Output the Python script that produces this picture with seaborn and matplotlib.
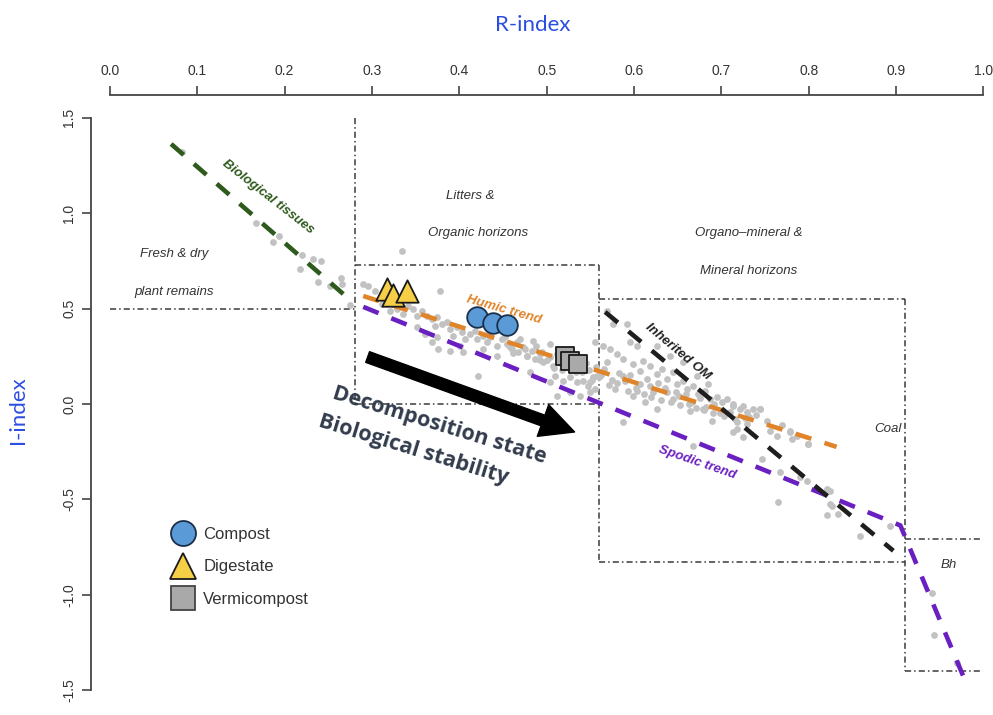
import numpy as np
import pandas as pd
import matplotlib
matplotlib.use("Agg")
import matplotlib.pyplot as plt
from matplotlib.lines import Line2D
import seaborn as sns

# ---------------- data (R-index, I-index) ----------------
x_ticks = [0.0, 0.1, 0.2, 0.3, 0.4, 0.5, 0.6, 0.7, 0.8, 0.9, 1.0]
y_ticks = [-1.5, -1.0, -0.5, 0.0, 0.5, 1.0, 1.5]

cloud_R = [
    0.082, 0.167, 0.187, 0.194, 0.220, 0.233, 0.218, 0.242, 0.238, 0.252, 0.265, 0.266, 0.275, 0.334,
    0.290, 0.295, 0.303, 0.311, 0.317, 0.378, 0.332, 0.341, 0.347, 0.352, 0.357, 0.363, 0.369, 0.374,
    0.372, 0.380, 0.386, 0.389, 0.397, 0.393, 0.403, 0.406, 0.412, 0.418, 0.420, 0.427, 0.432, 0.435,
    0.443, 0.449, 0.455, 0.460, 0.466, 0.467, 0.473, 0.477, 0.483, 0.487, 0.492, 0.496, 0.504, 0.507,
    0.504, 0.484, 0.510, 0.519, 0.527, 0.535, 0.542, 0.547, 0.553, 0.555, 0.550, 0.538, 0.421, 0.443,
    0.427, 0.401, 0.389, 0.374, 0.361, 0.369, 0.352, 0.335, 0.329, 0.321, 0.311, 0.376, 0.404, 0.481,
    0.504, 0.527, 0.512,
    0.452, 0.458, 0.470, 0.475, 0.488, 0.495, 0.500, 0.512, 0.515, 0.522, 0.530, 0.545, 0.548, 0.556,
    0.562, 0.566, 0.575, 0.583, 0.590, 0.596, 0.602, 0.615, 0.622, 0.628, 0.635, 0.648, 0.652, 0.660,
    0.666, 0.676, 0.683, 0.692, 0.698, 0.710, 0.732, 0.740, 0.752, 0.770,
    0.569, 0.576, 0.592, 0.603, 0.595, 0.564, 0.573, 0.581, 0.587, 0.569, 0.599, 0.610, 0.607, 0.618,
    0.626, 0.632, 0.638, 0.645, 0.649, 0.656, 0.661, 0.668, 0.673, 0.681, 0.687, 0.695, 0.701, 0.706,
    0.713, 0.721, 0.729, 0.736, 0.744, 0.718, 0.729, 0.713, 0.756, 0.779, 0.787, 0.799, 0.587, 0.607,
    0.587, 0.626, 0.645, 0.664, 0.679, 0.668, 0.638, 0.618, 0.641, 0.656, 0.672, 0.685, 0.626, 0.555,
    0.558, 0.550, 0.599, 0.613, 0.578,
    0.713, 0.725, 0.744, 0.689, 0.718, 0.725, 0.764, 0.779, 0.781, 0.799, 0.747, 0.767, 0.790, 0.798,
    0.765, 0.821, 0.824, 0.821, 0.834, 0.859, 0.893, 0.824, 0.827, 0.941, 0.943, 0.970,
    0.462, 0.478, 0.492, 0.508, 0.518, 0.526, 0.534, 0.541, 0.552, 0.560, 0.571, 0.580, 0.593, 0.604,
    0.612, 0.620, 0.631, 0.642, 0.653, 0.663, 0.671, 0.680, 0.690, 0.703, 0.716, 0.727,
]
cloud_I = [
    1.320, 0.950, 0.850, 0.880, 0.780, 0.760, 0.710, 0.750, 0.640, 0.620, 0.660, 0.630, 0.520, 0.800,
    0.627, 0.617, 0.591, 0.565, 0.523, 0.591, 0.523, 0.512, 0.497, 0.460, 0.486, 0.460, 0.444, 0.455,
    0.408, 0.418, 0.429, 0.392, 0.402, 0.355, 0.376, 0.340, 0.366, 0.382, 0.340, 0.355, 0.324, 0.350,
    0.303, 0.340, 0.314, 0.287, 0.324, 0.272, 0.298, 0.251, 0.277, 0.235, 0.261, 0.220, 0.246, 0.199,
    0.314, 0.329, 0.146, 0.120, 0.141, 0.115, 0.120, 0.094, 0.141, 0.078, 0.063, 0.042, 0.146, 0.251,
    0.287, 0.303, 0.277, 0.350, 0.366, 0.324, 0.402, 0.470, 0.497, 0.486, 0.523, 0.287, 0.272, 0.167,
    0.115, 0.063, 0.042,
    0.352, 0.300, 0.340, 0.290, 0.305, 0.270, 0.232, 0.262, 0.215, 0.240, 0.205, 0.215, 0.180, 0.195,
    0.150, 0.182, 0.125, 0.160, 0.120, 0.150, 0.085, 0.130, 0.060, 0.110, 0.085, 0.065, 0.040, 0.050,
    0.010, 0.030, -0.015, 0.000, -0.050, -0.040, -0.070, -0.060, -0.090, -0.110,
    0.486, 0.418, 0.418, 0.303, 0.324, 0.303, 0.287, 0.261, 0.235, 0.220, 0.209, 0.225, 0.172, 0.199,
    0.157, 0.183, 0.131, 0.167, 0.105, 0.120, 0.078, 0.094, 0.052, 0.068, 0.026, 0.037, 0.010, 0.026,
    -0.010, -0.026, -0.042, -0.026, -0.026, -0.094, -0.105, -0.146, -0.141, -0.146, -0.167, -0.209, 0.146, 0.105,
    -0.094, -0.026, 0.026, -0.037, -0.026, -0.220, 0.063, 0.094, 0.251, 0.220, 0.146, 0.105, 0.303, 0.324,
    0.146, 0.115, 0.042, 0.010, 0.078,
    0.000, -0.010, -0.026, -0.089, -0.131, -0.172, -0.167, -0.141, -0.183, -0.209, -0.287, -0.355, -0.382, -0.402,
    -0.512, -0.444, -0.523, -0.585, -0.575, -0.690, -0.638, -0.455, -0.533, -0.993, -1.213, -1.359,
    0.268, 0.252, 0.232, 0.190, 0.176, 0.188, 0.165, 0.170, 0.128, 0.140, 0.098, 0.108, 0.070, 0.068,
    0.050, 0.038, 0.020, 0.012, -0.005, -0.002, -0.020, -0.030, -0.045, -0.062, -0.080, -0.075,
]

# trends
bio_R, bio_I = [0.070, 0.271], [1.363, 0.561]
humic_R, humic_I = [0.290, 0.832], [0.566, -0.225]
spodic_R, spodic_I = [0.290, 0.905, 0.980], [0.509, -0.637, -1.460]
inherited_R, inherited_I = [0.567, 0.897], [0.482, -0.770]

# amendments
compost_R, compost_I = [0.420, 0.439, 0.455], [0.455, 0.423, 0.413]
digestate_R, digestate_I = [0.317, 0.324, 0.340], [0.601, 0.570, 0.591]
vermi_R, vermi_I = [0.521, 0.527, 0.536], [0.251, 0.225, 0.209]

# domain boundaries (dot-dash segments): (R0, R1, I0, I1)
bound_R0 = [0.00, 0.28, 0.28, 0.28, 0.56, 0.56, 0.56, 0.91, 0.91, 0.91]
bound_R1 = [0.28, 0.28, 0.56, 0.56, 0.56, 0.91, 0.91, 0.91, 1.00, 1.00]
bound_I0 = [0.50, 1.50, 0.73, 0.00, 0.73, 0.55, -0.83, 0.55, -0.71, -1.40]
bound_I1 = [0.50, 0.00, 0.73, 0.00, -0.83, 0.55, -0.83, -1.40, -0.71, -1.40]

# ---------------- figure ----------------
sns.set_theme(style="white")
plt.rcParams["font.family"] = ["Liberation Sans", "DejaVu Sans"]

W, H = 993, 715
fig = plt.figure(figsize=(W / 100, H / 100), dpi=100)
ax = fig.add_axes([91 / W, 1 - 710 / H, (990 - 91) / W, (710 - 95) / H])
ax.set_xlim(-0.02176, 1.00767)
ax.set_ylim(-1.605, 1.620)
ax.set_facecolor("white")

# boundaries
for r0, r1, i0, i1 in zip(bound_R0, bound_R1, bound_I0, bound_I1):
    ax.plot([r0, r1], [i0, i1], color="#3a3a3a", lw=1.1,
            linestyle=(0, (4, 2, 1, 2)), zorder=1)

# gray cloud
cloud = pd.DataFrame({"R": cloud_R, "I": cloud_I})
sns.scatterplot(data=cloud, x="R", y="I", color="#c2c2c2", s=24, linewidth=0,
                ax=ax, zorder=2, legend=False)

# trend lines
dash = (3.6, 3.0)
ax.plot(bio_R, bio_I, color="#2e5a1c", lw=3.3, dashes=dash, zorder=3)
ax.plot(humic_R, humic_I, color="#e0842a", lw=3.3, dashes=dash, zorder=3)
ax.plot(spodic_R, spodic_I, color="#6a1fc0", lw=3.3, dashes=dash, zorder=3)
ax.plot(inherited_R, inherited_I, color="#1e1e1e", lw=3.3, dashes=dash, zorder=3)

# amendments
sns.scatterplot(x=digestate_R, y=digestate_I, marker="^", s=260, color="#f6cf47",
                edgecolor="#1a1a1a", linewidth=1.3, ax=ax, zorder=4, legend=False)
sns.scatterplot(x=compost_R, y=compost_I, marker="o", s=220, color="#5a9ad6",
                edgecolor="#1c2f4a", linewidth=1.3, ax=ax, zorder=4, legend=False)
sns.scatterplot(x=vermi_R, y=vermi_I, marker="s", s=170, color="#a9a9a9",
                edgecolor="#1a1a1a", linewidth=1.3, ax=ax, zorder=4, legend=False)

# region labels
lab_kw = dict(fontsize=9.5, style="italic", color="#333333", ha="center", va="center", zorder=5)
ax.text(0.074, 0.787, "Fresh & dry", **lab_kw)
ax.text(0.073, 0.587, "plant remains", **lab_kw)
ax.text(0.413, 1.091, "Litters &", **lab_kw)
ax.text(0.421, 0.897, "Organic horizons", **lab_kw)
ax.text(0.731, 0.897, "Organo\u2013mineral &", **lab_kw)
ax.text(0.731, 0.697, "Mineral horizons", **lab_kw)
ax.text(0.891, -0.131, "Coal", **lab_kw)
ax.text(0.960, -0.844, "Bh", **lab_kw)

tr_kw = dict(fontsize=9.5, style="italic", weight="bold", ha="center", va="center",
             rotation_mode="anchor", zorder=5)
ax.text(0.181, 1.085, "Biological tissues", color="#2e5a1c", rotation=-38, **tr_kw)
ax.text(0.451, 0.493, "Humic trend", color="#e0842a", rotation=-16, **tr_kw)
ax.text(0.650, 0.273, "Inherited OM", color="#222222", rotation=-40, **tr_kw)
ax.text(0.672, -0.309, "Spodic trend", color="#6a1fc0", rotation=-19, **tr_kw)

# arrow and its caption
ax.annotate("", xy=(0.532, -0.147), xytext=(0.295, 0.246),
            arrowprops=dict(arrowstyle="simple,head_length=1.1,head_width=1.1,tail_width=0.37",
                            color="black", mutation_scale=22, shrinkA=0, shrinkB=0),
            zorder=5)
cap_kw = dict(fontsize=15.5, weight="bold", family="Open Sans", color="#323c4c",
              ha="center", va="center", rotation=-17, rotation_mode="anchor", zorder=6)
ax.text(0.377, -0.115, "Decomposition state", **cap_kw)
ax.text(0.347, -0.238, "Biological stability", **cap_kw)

# axes styling (R-like detached axes)
for s in ["bottom", "right"]:
    ax.spines[s].set_visible(False)
for s in ["top", "left"]:
    ax.spines[s].set_visible(True)
    ax.spines[s].set_color("#444444")
    ax.spines[s].set_linewidth(1.3)
ax.spines["top"].set_bounds(0, 1)
ax.spines["left"].set_bounds(-1.5, 1.5)
ax.grid(False)

ax.xaxis.tick_top()
ax.set_xticks(x_ticks)
ax.set_xticklabels([f"{v:.1f}" for v in x_ticks])
ax.set_yticks(y_ticks)
ax.set_yticklabels([f"{v:.1f}" for v in y_ticks])
ax.tick_params(axis="x", top=True, bottom=False, labeltop=True, labelbottom=False,
               length=6.5, width=1.2, color="#444444", pad=6, labelsize=10,
               labelcolor="#333333")
ax.tick_params(axis="y", left=True, right=False, length=6.5, width=1.2, color="#444444",
               pad=4, labelsize=10, labelcolor="#333333", labelrotation=90)
for lab in ax.get_yticklabels():
    lab.set_va("center")
ax.set_xlabel("")
ax.set_ylabel("")

fig.text(533 / W, 1 - 25 / H, "R-index", color="#2b4ee0", fontsize=16, family="Lato",
         ha="center", va="center")
fig.text(18 / W, 1 - 410 / H, "I-index", color="#2b4ee0", fontsize=16, family="Lato",
         ha="center", va="center", rotation=90)

# legend
handles = [
    Line2D([], [], ls="", marker="o", markersize=18, markerfacecolor="#5a9ad6",
           markeredgecolor="#1c2f4a", markeredgewidth=1.3),
    Line2D([], [], ls="", marker="^", markersize=19, markerfacecolor="#f6cf47",
           markeredgecolor="#1a1a1a", markeredgewidth=1.3),
    Line2D([], [], ls="", marker="s", markersize=17, markerfacecolor="#a9a9a9",
           markeredgecolor="#444444", markeredgewidth=1.3),
]
leg = fig.legend(handles, ["Compost", "Digestate", "Vermicompost"], loc="upper left",
                 bbox_to_anchor=(170 / W, 1 - 527 / H), frameon=False, fontsize=12,
                 handlelength=1.5, handletextpad=0.5, labelspacing=1.05,
                 borderpad=0, borderaxespad=0)
for t in leg.get_texts():
    t.set_color("#333333")

fig.savefig("out.png", dpi=100)
